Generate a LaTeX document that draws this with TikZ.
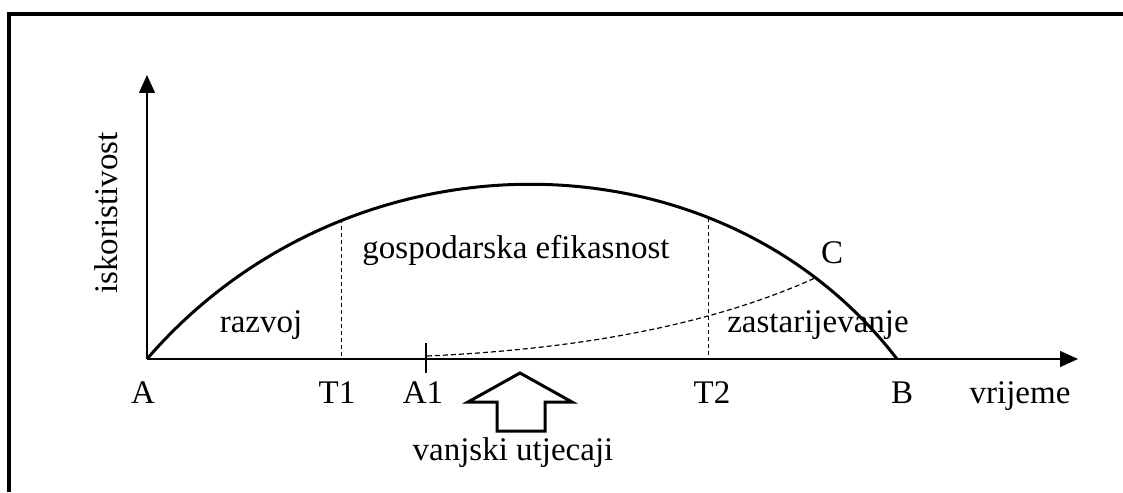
\documentclass[tikz,border=0pt]{standalone}
\usepackage{fontspec}
\setmainfont{Liberation Serif}
\usetikzlibrary{arrows.meta}

\begin{document}
\begin{tikzpicture}[x=1pt, y=-1pt, every node/.style={font=\fontsize{33}{40}\selectfont, inner sep=0pt, anchor=base}]
    \useasboundingbox (0,0) rectangle (1123,492);
    \draw [line width=4pt] (1123,14) -- (9,14) -- (9,492);

    \coordinate (A) at (147,359);
    \coordinate (B) at (897,359);
    \coordinate (ytop) at (147,75);
    \coordinate (xend) at (1078,359);
    \coordinate (T1) at (341,359);
    \coordinate (T1up) at (341,219);
    \coordinate (T2) at (708,359);
    \coordinate (T2up) at (708,218);
    \coordinate (A1) at (427,356);
    \coordinate (C) at (815,278);

    % axes and curves
    \draw [-{Triangle[length=18pt,width=16pt]}, line width=1.4pt] (A) -- (ytop);
    \draw [-{Triangle[length=18pt,width=16pt]}, line width=1.4pt] (A) -- (xend);
    \draw [line width=3pt] (A) .. controls (348,126) and (718,126) .. (B);
    \draw [dash pattern=on 4pt off 3pt, line width=1pt] (T1up) -- (T1);
    \draw [dash pattern=on 4pt off 3pt, line width=1pt] (T2up) -- (T2);
    \draw [dash pattern=on 5pt off 3pt, line width=1.2pt] (A1) .. controls (560,350) and (700,330) .. (C);
    \draw [line width=1.4pt] (426,343) -- (426,373);

    % hollow arrow
    \draw [line width=3pt] (520,373) -- (572,402) -- (545,402) -- (545,431) -- (497,431) -- (497,402) -- (468,402) -- cycle;

    \node (lA) at (143,403) {A};
    \node (lT1) at (337,403) {T1};
    \node (lA1) at (423,403) {A1};
    \node (lT2) at (712,403) {T2};
    \node (lB) at (902,403) {B};
    \node (time) at (1020,403) {vrijeme};
    \node (use) [rotate=90] at (117,213) {iskoristivost};
    \node (lC) at (832,263) {C};
    \node (dev) at (261,332) {razvoj};
    \node (eff) at (516,258) {gospodarska efikasnost};
    \node (old) at (818,332) {zastarijevanje};
    \node (ext) at (513,460) {vanjski utjecaji};
\end{tikzpicture}
\end{document}
